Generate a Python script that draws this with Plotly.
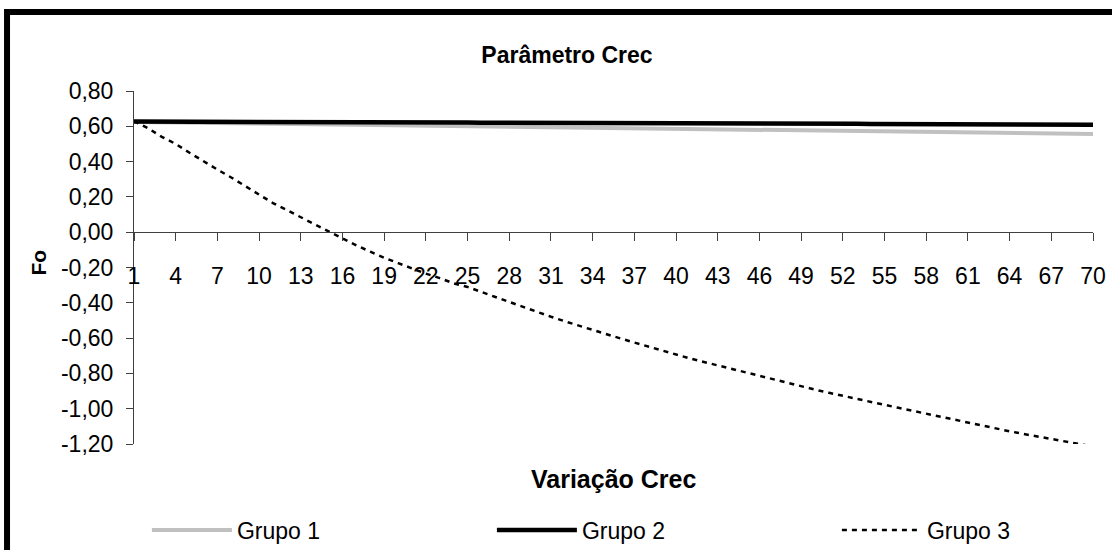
import plotly.graph_objects as go

# Variação Crec (categorias 1..70)
categorias = list(range(1, 71))

grupo_1 = [
    0.625, 0.624, 0.623, 0.622, 0.622, 0.621, 0.620, 0.619, 0.618, 0.617,
    0.616, 0.615, 0.614, 0.613, 0.612, 0.611, 0.610, 0.609, 0.608, 0.607,
    0.606, 0.605, 0.604, 0.603, 0.602, 0.601, 0.600, 0.599, 0.598, 0.597,
    0.596, 0.595, 0.594, 0.593, 0.592, 0.591, 0.590, 0.589, 0.588, 0.587,
    0.586, 0.585, 0.584, 0.583, 0.582, 0.581, 0.580, 0.579, 0.578, 0.577,
    0.576, 0.575, 0.574, 0.573, 0.572, 0.571, 0.570, 0.569, 0.568, 0.567,
    0.566, 0.565, 0.564, 0.563, 0.562, 0.561, 0.560, 0.559, 0.558, 0.556,
]

grupo_2 = [
    0.627, 0.627, 0.627, 0.626, 0.626, 0.626, 0.626, 0.625, 0.625, 0.625,
    0.625, 0.624, 0.624, 0.624, 0.623, 0.623, 0.623, 0.623, 0.622, 0.622,
    0.622, 0.622, 0.621, 0.621, 0.621, 0.620, 0.620, 0.620, 0.620, 0.619,
    0.619, 0.619, 0.619, 0.618, 0.618, 0.618, 0.618, 0.617, 0.617, 0.617,
    0.617, 0.616, 0.616, 0.616, 0.616, 0.615, 0.615, 0.615, 0.615, 0.614,
    0.614, 0.614, 0.614, 0.613, 0.613, 0.613, 0.613, 0.612, 0.612, 0.612,
    0.612, 0.611, 0.611, 0.611, 0.611, 0.610, 0.610, 0.610, 0.610, 0.609,
]

grupo_3 = [
    0.630, 0.590, 0.540, 0.500, 0.450, 0.400, 0.355, 0.310, 0.260, 0.215,
    0.165, 0.125, 0.085, 0.045, 0.005, -0.035, -0.075, -0.110, -0.145, -0.175,
    -0.205, -0.235, -0.260, -0.290, -0.310, -0.340, -0.367, -0.395, -0.424, -0.452,
    -0.479, -0.505, -0.530, -0.555, -0.578, -0.602, -0.625, -0.648, -0.672, -0.694,
    -0.715, -0.735, -0.755, -0.775, -0.795, -0.815, -0.835, -0.855, -0.873, -0.892,
    -0.910, -0.928, -0.945, -0.962, -0.978, -0.995, -1.012, -1.030, -1.047, -1.064,
    -1.080, -1.096, -1.112, -1.128, -1.143, -1.158, -1.172, -1.187, -1.200, -1.214,
]

x_tick_vals = categorias[::3]
x_tick_labels = [str(v) for v in x_tick_vals]

y_tick_vals = [0.8, 0.6, 0.4, 0.2, 0.0, -0.2, -0.4, -0.6, -0.8, -1.0, -1.2]
y_tick_labels = ["0,80", "0,60", "0,40", "0,20", "0,00", "-0,20",
                 "-0,40", "-0,60", "-0,80", "-1,00", "-1,20"]

FONT = "Arial, Liberation Sans, sans-serif"
Y_MIN, Y_MAX = -1.2, 0.8
TICK_SIZE = 23

fig = go.Figure()
fig.add_trace(go.Scatter(
    x=categorias, y=grupo_1, mode="lines", name="Grupo 1",
    line=dict(color="#C0C0C0", width=4),
))
fig.add_trace(go.Scatter(
    x=categorias, y=grupo_2, mode="lines", name="Grupo 2",
    line=dict(color="#000000", width=4.5),
))
fig.add_trace(go.Scatter(
    x=categorias, y=grupo_3, mode="lines", name="Grupo 3",
    line=dict(color="#000000", width=2.5, dash="5px,5px"),
))

# horizontal axis drawn across y = 0
x_axis_pos = (0 - Y_MIN) / (Y_MAX - Y_MIN)

fig.update_layout(
    width=1112, height=550, autosize=False,
    margin=dict(l=134, r=19, t=91, b=106, autoexpand=False),
    paper_bgcolor="white", plot_bgcolor="white",
    font=dict(family=FONT, size=TICK_SIZE, color="#000000"),
    title=dict(
        text="<b>Parâmetro Crec</b>",
        x=0.4515, xref="paper", xanchor="center",
        y=0.9, yref="container", yanchor="middle",
        font=dict(family=FONT, size=23, color="#000000"),
    ),
    xaxis=dict(
        range=[1, 70], anchor="free", position=x_axis_pos,
        showline=True, linecolor="#404040", linewidth=1,
        showgrid=False, zeroline=False,
        ticks="outside", ticklen=8, tickcolor="#404040", tickwidth=1,
        tickmode="array", tickvals=x_tick_vals, ticktext=x_tick_labels,
        ticklabelstandoff=15,
        tickfont=dict(family=FONT, size=TICK_SIZE, color="#000000"),
    ),
    yaxis=dict(
        range=[Y_MIN, Y_MAX],
        showline=True, linecolor="#404040", linewidth=1,
        showgrid=False, zeroline=False,
        ticks="outside", ticklen=7, tickcolor="#404040", tickwidth=1,
        tickmode="array", tickvals=y_tick_vals, ticktext=y_tick_labels,
        ticklabelstandoff=8,
        tickfont=dict(family=FONT, size=TICK_SIZE, color="#000000"),
    ),
    showlegend=True,
    legend=dict(
        orientation="h", x=-0.0001, xanchor="left",
        y=-0.2436, yanchor="middle",
        indentation=13,
        entrywidth=237, entrywidthmode="pixels",
        itemwidth=80,
        font=dict(family=FONT, size=23, color="#000000"),
        bgcolor="rgba(0,0,0,0)",
    ),
    annotations=[
        dict(
            text="<b>Variação Crec</b>", showarrow=False,
            x=0.5, xref="paper", xanchor="center",
            y=-0.0992, yref="paper", yanchor="middle",
            font=dict(family=FONT, size=25, color="#000000"),
        ),
        dict(
            text="<b>Fo</b>", showarrow=False, textangle=-90,
            x=-0.1006, xref="paper", xanchor="center",
            y=0.5127, yref="paper", yanchor="middle",
            font=dict(family=FONT, size=21, color="#000000"),
        ),
    ],
    shapes=[dict(
        type="rect", xref="paper", yref="paper",
        x0=-0.1324, y0=-0.5, x1=1.1, y1=1.2238,
        line=dict(color="#000000", width=6),
        fillcolor="rgba(0,0,0,0)", layer="above",
    )],
)

fig.write_html("out.html")
